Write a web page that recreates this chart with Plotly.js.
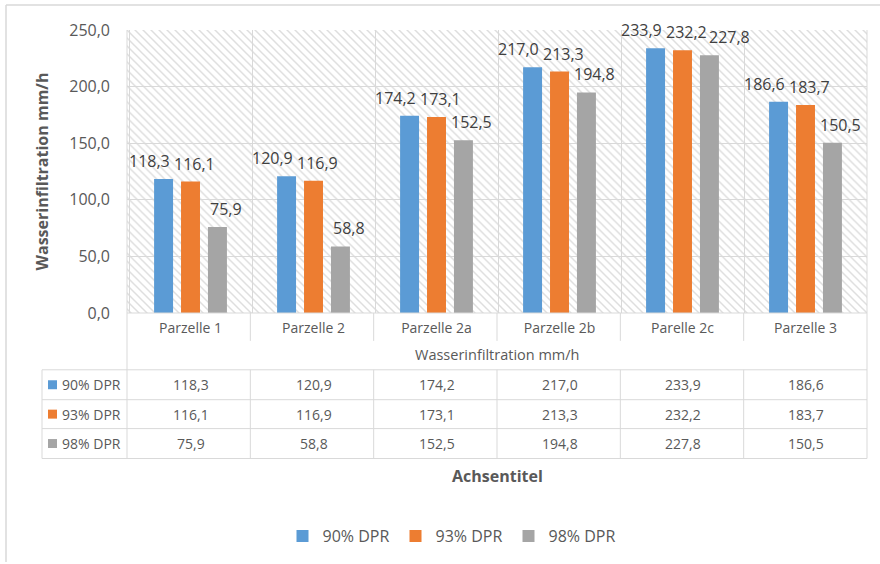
<!DOCTYPE html>
<html>
<head>
<meta charset="utf-8">
<script src="https://cdn.plot.ly/plotly-3.0.1.min.js"></script>
<style>html,body{margin:0;padding:0;background:#fff;}#chart{width:880px;height:564px;}</style>
</head>
<body>
<div id="chart"></div>
<script>
const categories = ['Parzelle 1','Parzelle 2','Parzelle 2a','Parzelle 2b','Parelle 2c','Parzelle 3'];
const seriesNames = ['90% DPR','93% DPR','98% DPR'];
const dpr90 = [118.3,120.9,174.2,217.0,233.9,186.6];
const dpr93 = [116.1,116.9,173.1,213.3,232.2,183.7];
const dpr98 = [75.9,58.8,152.5,194.8,227.8,150.5];
const seriesColors = ['#5B9BD5','#ED7D31','#A5A5A5'];
const yTitle = 'Wasserinfiltration mm/h';
const tableTitle = 'Wasserinfiltration mm/h';
const xTitle = 'Achsentitel';

const allSeries = [dpr90, dpr93, dpr98];
const FONT = '"Open Sans", "Liberation Sans", Arial, sans-serif';
const TXT = '#595959';
const GRID = '#d9d9d9';

// layout geometry
const W = 880, H = 564;
const L = 127, R = 13, T = 30, B = 250;
const PW = W - L - R, PH = H - T - B;
const px2x = p => (p - L) / PW;
const py2y = p => (H - B - p) / PH;
const bargap = 0.343, bargroupgap = 0.296;
const YMAX = 250;

const fmt = v => v.toFixed(1).replace('.', ',');

const traces = allSeries.map((vals, i) => ({
  type: 'bar',
  name: seriesNames[i],
  x: categories,
  y: vals,
  marker: {color: seriesColors[i]},
  hoverinfo: 'none'
}));

// hatch background image
const svg = `<svg xmlns="http://www.w3.org/2000/svg" width="${PW}" height="${PH}"><defs><pattern id="h" width="8" height="8" patternUnits="userSpaceOnUse"><path d="M-1,-1 L9,9 M-1,7 L1,9 M7,-1 L9,1" stroke="#dedede" stroke-width="1.5"/></pattern></defs><rect width="${PW}" height="${PH}" fill="url(#h)"/></svg>`;
const hatchSrc = 'data:image/svg+xml;charset=utf-8,' + encodeURIComponent(svg);

const annotations = [];
const shapes = [];

// data labels above bars (spread sideways like the spreadsheet does, avoiding overlaps)
const LABEL_SIZE = 16;
const ctx = document.createElement('canvas').getContext('2d');
ctx.font = LABEL_SIZE + 'px "Open Sans"';
const catPx = PW / categories.length;
const slot = catPx * (1 - bargap) / 3;
const baseShift = [-14, 4, 8];
categories.forEach((c, j) => {
  let prev = null;
  allSeries.forEach((vals, i) => {
    const v = vals[j];
    const w = ctx.measureText(fmt(v)).width;
    let cx = (i - 1) * slot + baseShift[i];
    const ypx = v / YMAX * PH;
    if (prev && Math.abs(prev.ypx - ypx) < 16) {
      const minLeft = prev.cx + prev.w / 2 + 2;
      if (cx - w / 2 < minLeft) cx = minLeft + w / 2;
    }
    prev = {cx, w, ypx};
    annotations.push({
      x: c, y: v, xref: 'x', yref: 'y',
      text: fmt(v), showarrow: false, yanchor: 'bottom',
      xshift: cx, yshift: 5,
      font: {family: FONT, size: LABEL_SIZE, color: '#404040'}
    });
  });
});

// table rows
const rowTops = [371, 401, 430, 460];
allSeries.forEach((vals, i) => {
  const cy = (rowTops[i] + rowTops[i + 1]) / 2;
  vals.forEach((v, j) => {
    annotations.push({
      x: categories[j], y: py2y(cy), xref: 'x', yref: 'paper',
      text: fmt(v), showarrow: false, yanchor: 'middle',
      font: {family: FONT, size: 14, color: TXT}
    });
  });
  annotations.push({
    x: px2x(60), y: py2y(cy), xref: 'paper', yref: 'paper',
    text: seriesNames[i], showarrow: false, xanchor: 'left', yanchor: 'middle',
    font: {family: FONT, size: 14, color: TXT}
  });
  shapes.push({
    type: 'rect', xref: 'paper', yref: 'paper',
    x0: px2x(48), x1: px2x(57), y0: py2y(cy - 4.5), y1: py2y(cy + 4.5),
    fillcolor: seriesColors[i], line: {width: 0}
  });
});

annotations.push({
  x: 0.5, y: py2y(356), xref: 'paper', yref: 'paper',
  text: tableTitle, showarrow: false, yanchor: 'middle',
  font: {family: FONT, size: 14.5, color: TXT}
});
annotations.push({
  x: 0.5, y: py2y(478), xref: 'paper', yref: 'paper',
  text: '<b>' + xTitle + '</b>', showarrow: false, yanchor: 'middle',
  font: {family: FONT, size: 16, color: TXT}
});

// table lines
const hline = (y, x0, x1) => shapes.push({type: 'line', xref: 'paper', yref: 'paper',
  x0: px2x(x0), x1: px2x(x1), y0: py2y(y), y1: py2y(y), line: {color: GRID, width: 1}});
const vline = (x, y0, y1) => shapes.push({type: 'line', xref: 'paper', yref: 'paper',
  x0: px2x(x), x1: px2x(x), y0: py2y(y0), y1: py2y(y1), line: {color: GRID, width: 1}});
hline(H - B, L, W - R);
rowTops.forEach(y => hline(y, 42, W - R));
vline(42, 371, 460);
vline(L, T, 460);
vline(W - R, T, 460);
for (let k = 1; k < categories.length; k++) {
  const x = L + k * catPx;
  vline(x, H - B, 342);
  vline(x, 371, 460);
}
// outer chart frame
shapes.push({type: 'line', xref: 'paper', yref: 'paper', x0: px2x(6), x1: px2x(W), y0: py2y(5), y1: py2y(5), line: {color: GRID, width: 1.5}});
shapes.push({type: 'line', xref: 'paper', yref: 'paper', x0: px2x(6), x1: px2x(6), y0: py2y(5), y1: py2y(H), line: {color: GRID, width: 1.5}});

const layout = {
  width: W, height: H,
  margin: {l: L, r: R, t: T, b: B, pad: 0},
  paper_bgcolor: '#ffffff',
  plot_bgcolor: 'rgba(0,0,0,0)',
  separators: ',.',
  barmode: 'group',
  bargap: bargap,
  bargroupgap: bargroupgap,
  font: {family: FONT, color: TXT},
  showlegend: true,
  legend: {
    orientation: 'h', x: px2x(452), xanchor: 'center', y: py2y(536), yanchor: 'middle',
    font: {family: FONT, size: 16, color: TXT}, traceorder: 'normal', itemclick: false,
    entrywidth: 68, entrywidthmode: 'pixels'
  },
  xaxis: {
    type: 'category', tickson: 'boundaries', showgrid: true, gridcolor: GRID, gridwidth: 1,
    ticks: '', showline: false, zeroline: false, ticklabelstandoff: 5,
    tickfont: {family: FONT, size: 14, color: TXT}, fixedrange: true
  },
  yaxis: {
    range: [0, YMAX], dtick: 50, tickformat: '.1f', showgrid: true, gridcolor: GRID, gridwidth: 1,
    zeroline: false, showline: false, ticks: '', ticklabelstandoff: 16,
    tickfont: {family: FONT, size: 16, color: TXT},
    title: {text: '<b>' + yTitle + '</b>', standoff: 16, font: {family: FONT, size: 16, color: TXT}},
    fixedrange: true
  },
  images: [{
    source: hatchSrc, xref: 'paper', yref: 'paper', x: 0, y: 1, sizex: 1, sizey: 1,
    xanchor: 'left', yanchor: 'top', sizing: 'stretch', layer: 'below'
  }],
  shapes: shapes,
  annotations: annotations
};

Plotly.newPlot('chart', traces, layout, {displayModeBar: false, staticPlot: true});
</script>
</body>
</html>
